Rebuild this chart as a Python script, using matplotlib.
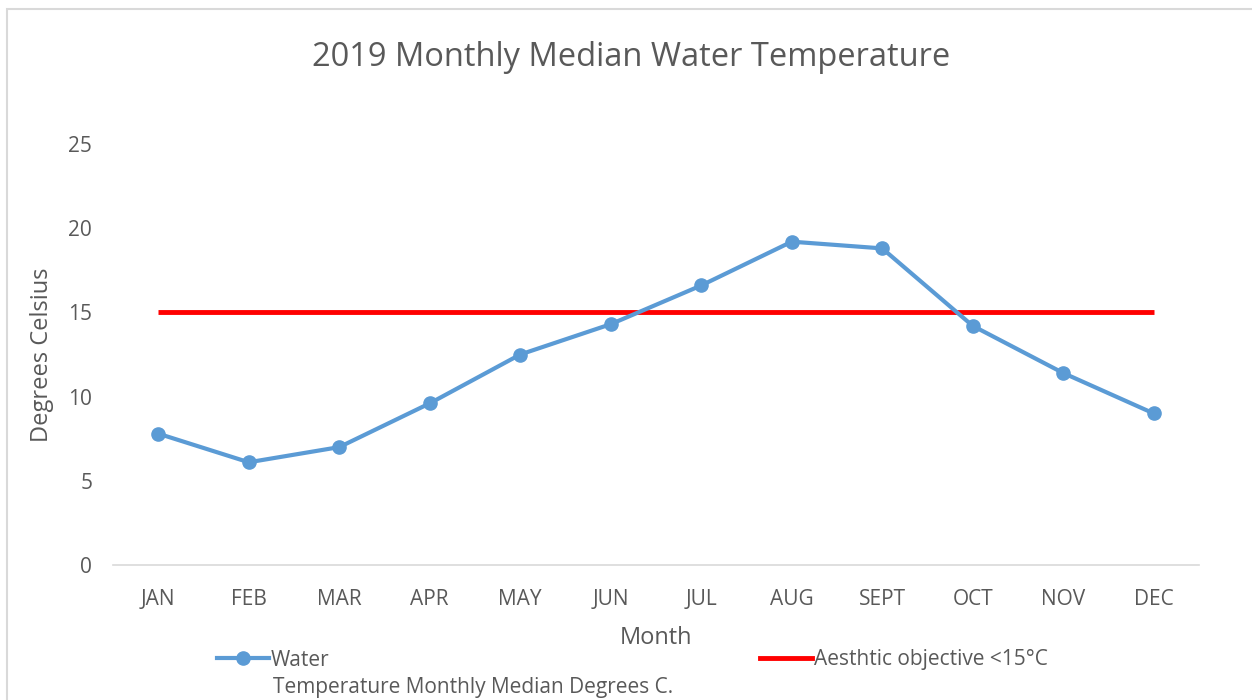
import matplotlib.pyplot as plt
from matplotlib.lines import Line2D
from matplotlib.patches import Rectangle

# ---------- Data ----------
months = ["JAN", "FEB", "MAR", "APR", "MAY", "JUN",
          "JUL", "AUG", "SEPT", "OCT", "NOV", "DEC"]
water_temp = [7.8, 6.1, 7.0, 9.6, 12.5, 14.3, 16.6, 19.2, 18.8, 14.2, 11.4, 9.0]
objective = [15] * 12

TEXT = "#595959"
BLUE = "#5B9BD5"
RED = "#FF0000"

plt.rcParams['font.family'] = ['Open Sans', 'DejaVu Sans']

fig = plt.figure(figsize=(12.52, 7.0), dpi=100)
ax = fig.add_axes([113 / 1252, 1 - 565 / 700, (1199 - 113) / 1252, (565 - 144) / 700])

x = list(range(len(months)))
ax.plot(x, water_temp, color=BLUE, lw=3, marker="o", markersize=9.5, zorder=3)
ax.plot(x, objective, color=RED, lw=3.5, solid_capstyle="butt", zorder=2)

ax.set_xlim(-0.5, len(months) - 0.5)
ax.set_ylim(0, 25)
ax.set_yticks([0, 5, 10, 15, 20, 25])
ax.set_xticks(x)
ax.set_xticklabels(months)
ax.tick_params(axis="both", length=0, labelsize=15, colors=TEXT)
ax.tick_params(axis="y", pad=15)
ax.tick_params(axis="x", pad=17)

for side in ["top", "right", "left"]:
    ax.spines[side].set_visible(False)
ax.spines["bottom"].set_color("#D9D9D9")
ax.spines["bottom"].set_linewidth(1.2)

ax.set_xlabel("Month", fontsize=17, color=TEXT, labelpad=12)
ax.set_ylabel("Degrees Celsius", fontsize=17, color=TEXT, labelpad=10)
fig.text(631 / 1252, 1 - 57 / 700, "2019 Monthly Median Water Temperature",
         ha="center", va="center", fontsize=23.5, color=TEXT)

# legend (drawn as two pieces so the wrapped label lines up like the original)
h_water = Line2D([], [], color=BLUE, lw=3, marker="o", markersize=9.5)
h_obj = Line2D([], [], color=RED, lw=3.5)
leg1 = fig.legend([h_water], ["Water"], loc="center left",
                  bbox_to_anchor=(198 / 1252, 1 - 660 / 700), frameon=False,
                  fontsize=15, labelcolor=TEXT, handlelength=2.5, handletextpad=0.1)
fig.text(273 / 1252, 1 - 688 / 700, "Temperature Monthly Median Degrees C.",
         ha="left", va="center", fontsize=15, color=TEXT)
leg2 = fig.legend([h_obj], ["Aesthtic objective <15\u00b0C"], loc="center left",
                  bbox_to_anchor=(741 / 1252, 1 - 660 / 700), frameon=False,
                  fontsize=15, labelcolor=TEXT, handlelength=2.5, handletextpad=0.1)

# chart border (runs off the right and bottom edges)
fig.patches.append(Rectangle((7 / 1252, -0.1), 1.1, 1.1 - 9 / 700,
                             transform=fig.transFigure, fill=False,
                             edgecolor="#D9D9D9", lw=1.5))

fig.savefig("out.png", dpi=100)
